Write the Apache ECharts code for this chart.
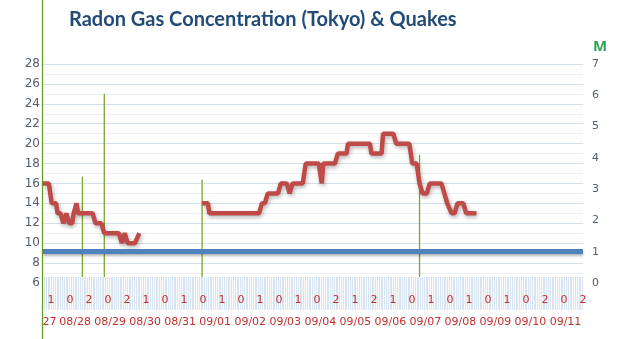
<!DOCTYPE html>
<html>
<head>
<meta charset="utf-8">
<script src="https://cdn.jsdelivr.net/npm/echarts@6/dist/echarts.min.js"></script>
<style>
  html, body { margin: 0; padding: 0; background: #fff; }
  #chart { width: 627px; height: 339px; }
</style>
</head>
<body>
<div id="chart"></div>
<script>
// radon readings, hours counted from 08/27 00:00 ('-' = no data)
const radonHours = [14, 18, 20, 23, 24, 26, 28, 30, 32, 34, 35, 37, 38, 48, 50, 54, 56, 66, 68, 70, 72, 77, 80,
  100,
  123, 127, 128, 162, 164, 166, 168, 175, 177, 181, 183, 185, 192, 194, 203, 205, 206, 214, 216, 222, 223,
  238, 239, 246, 247, 254, 256, 265, 267, 270, 272, 274, 277, 279, 287, 289, 291, 294, 296, 298, 302, 304, 311]
const radonLevels = [16, 16, 14, 14, 13, 13, 12, 13, 12, 12, 13, 14, 13, 13, 12, 12, 11, 11, 10, 11, 10, 10, 11,
  '-',
  14, 14, 13, 13, 14, 14, 15, 15, 16, 16, 15, 16, 16, 18, 18, 16, 18, 18, 19, 19, 20,
  20, 19, 19, 21, 21, 20, 20, 18, 18, 16, 15, 15, 16, 16, 15, 14, 13, 13, 14, 14, 13, 13]

// quakes: time (hours) and magnitude
const quakeHours = [41, 56, 123, 272]
const quakeMags = [3.4, 6.05, 3.3, 4.1]
const thresholdM = 1

const dayLabels = ['08/27', '08/28', '08/29', '08/30', '08/31', '09/01', '09/02', '09/03',
  '09/04', '09/05', '09/06', '09/07', '09/08', '09/09', '09/10', '09/11']
const countLabels = ['1', '0', '2', '0', '2', '1', '0', '1', '0', '1', '0', '1', '0', '1', '0',
  '2', '1', '2', '1', '0', '1', '0', '1', '0', '1', '0', '2', '0', '2']

const hourMin = 14
const hourMax = dayLabels.length * 24
const dayBounds = dayLabels.map((d, i) => (i + 1) * 24)
const dayCenters = [hourMin + 4.5].concat(dayLabels.slice(1).map((d, i) => (i + 1) * 24 + 12))

const red = '#BE4B48'
const green = '#78A82A'
const labelFont = 'DejaVu Sans'

const chart = echarts.init(document.getElementById('chart'))

const option = {
  animation: false,
  title: {
    text: 'Radon Gas Concentration (Tokyo) & Quakes',
    left: 64,
    top: 5,
    textStyle: { fontFamily: 'Lato', fontWeight: 'bold', fontSize: 20, color: '#234B78' }
  },
  grid: [
    // main plot
    { left: 43, right: 44, top: 64, bottom: 56, outerBoundsMode: 'none' },
    // full height green line on the left
    { left: 42.5, width: 10, top: 0, bottom: 0, outerBoundsMode: 'none' },
    // hatched band
    { left: 43, right: 44, top: 277, height: 33, show: true, backgroundColor: '#D9E4F1', borderWidth: 0, z: 10, outerBoundsMode: 'none' },
    // date row
    { left: 43, right: 44, top: 292, bottom: 0, outerBoundsMode: 'none' },
    // count digits
    { left: 51, right: 44, top: 277, height: 14, outerBoundsMode: 'none' }
  ],
  xAxis: [
    { type: 'value', gridIndex: 0, min: hourMin, max: hourMax, show: false },
    { type: 'value', gridIndex: 1, show: false },
    {
      type: 'value', gridIndex: 2, min: 0, max: 240, interval: 1, z: 11,
      axisLine: { show: false }, axisTick: { show: false }, axisLabel: { show: false },
      splitLine: { show: true, lineStyle: { color: 'rgba(255,255,255,0.85)', width: 1 } }
    },
    {
      type: 'value', gridIndex: 3, min: hourMin, max: hourMax, position: 'top', z: 12,
      axisLine: { show: false },
      axisTick: { show: true, inside: true, length: 47, customValues: dayBounds, lineStyle: { color: '#C6D3E3' } },
      axisLabel: {
        inside: true, margin: 25, customValues: dayCenters,
        color: '#C0302E', fontSize: 11, fontFamily: labelFont,
        formatter: v => v < 24 ? dayLabels[0].slice(3) : dayLabels[Math.floor(v / 24)]
      },
      splitLine: { show: false }
    },
    {
      type: 'category', gridIndex: 4, boundaryGap: false, data: countLabels, z: 12,
      axisLine: { show: false }, axisTick: { show: false },
      axisLabel: { interval: 0, margin: 4, color: '#C0302E', fontSize: 11, fontFamily: labelFont },
      splitLine: { show: false }
    }
  ],
  yAxis: [
    {
      type: 'value', gridIndex: 0, min: 6, max: 28, interval: 2,
      axisLine: { show: false }, axisTick: { show: false },
      axisLabel: { margin: 3, color: '#52606E', fontSize: 12, fontFamily: labelFont },
      splitLine: { show: true, lineStyle: { color: '#D5DFEA' } },
      minorTick: { show: false, splitNumber: 2 },
      minorSplitLine: { show: true, lineStyle: { color: '#E9EEF4' } }
    },
    {
      type: 'value', gridIndex: 0, min: 0, max: 7, interval: 1, position: 'right',
      name: 'M', nameLocation: 'end', nameGap: 10,
      nameTextStyle: { color: '#2FA35A', fontWeight: 'bold', fontSize: 15, fontFamily: 'Open Sans', align: 'left', padding: [0, 0, 0, 10] },
      axisLine: { show: false }, axisTick: { show: false },
      axisLabel: { margin: 9, color: '#52606E', fontSize: 11, fontFamily: labelFont },
      splitLine: { show: false }
    },
    {
      type: 'value', gridIndex: 1, z: 13,
      axisLine: { show: true, lineStyle: { color: '#5E9A22', width: 1.2 } },
      axisTick: { show: false }, axisLabel: { show: false }, splitLine: { show: false }
    },
    { type: 'value', gridIndex: 2, show: false },
    { type: 'value', gridIndex: 3, show: false },
    { type: 'value', gridIndex: 4, show: false }
  ],
  series: [
    {
      name: 'Quakes',
      type: 'bar',
      xAxisIndex: 0,
      yAxisIndex: 1,
      barWidth: 1.3,
      itemStyle: { color: green },
      data: quakeHours.map((h, i) => [h, quakeMags[i]]),
      markLine: {
        silent: true,
        symbol: 'none',
        label: { show: false },
        lineStyle: {
          type: 'solid', color: '#4F81BD', width: 5,
          shadowColor: 'rgba(0,0,0,0.3)', shadowBlur: 3, shadowOffsetY: 2
        },
        data: [{ yAxis: thresholdM }]
      }
    },
    {
      name: 'Radon',
      type: 'line',
      xAxisIndex: 0,
      yAxisIndex: 0,
      showSymbol: false,
      connectNulls: false,
      lineStyle: {
        color: red, width: 4.5,
        shadowColor: 'rgba(0,0,0,0.3)', shadowBlur: 4, shadowOffsetX: 1, shadowOffsetY: 2
      },
      data: radonHours.map((h, i) => [h, radonLevels[i]])
    }
  ]
}

chart.setOption(option)
</script>
</body>
</html>
